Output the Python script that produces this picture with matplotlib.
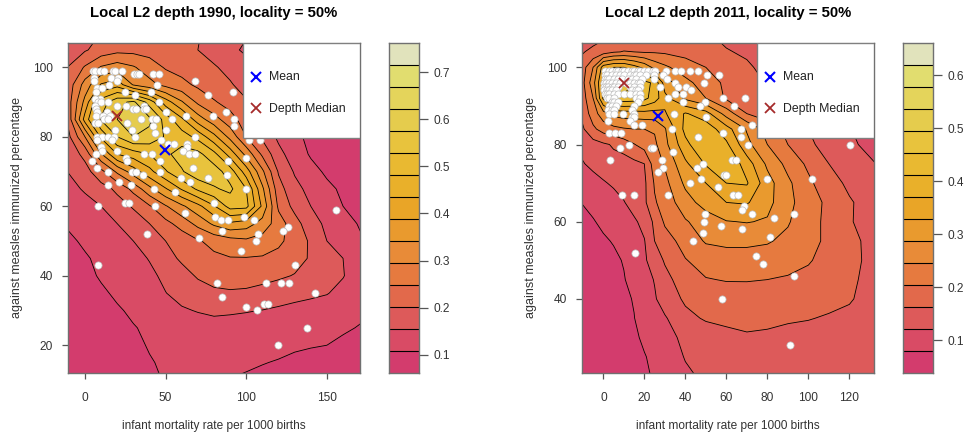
import numpy as np
import matplotlib
matplotlib.use('Agg')
import matplotlib.pyplot as plt
from matplotlib.patches import Rectangle

plt.rcParams['font.family'] = ['Liberation Sans', 'DejaVu Sans']

# 15 colour bands, bottom to top
band_colors = ['#D33C6D', '#D94B65', '#DD5A5A', '#E2694B', '#E67A3F', '#E88B38', '#E99A2E', '#E9A527',
               '#E9B02A', '#E9B931', '#E8C33D', '#E5CC4D', '#E4D45B', '#E1DD6F', '#E1E3BC']

# depth field, in colour band units (1 = first contour line), rows top to bottom
x_1990 = [-11, 0, 10, 20, 30, 40, 50, 60, 70, 80, 90, 100, 110, 120, 130, 140, 150, 160, 171]
y_1990 = [108, 105, 100, 95, 90, 85, 80, 75, 70, 65, 60, 55, 50, 45, 40, 35, 30, 25, 20, 15, 11]
bands_1990 = [
    [2.3, 2.8, 3.1, 3.4, 3.5, 3.5, 3.4, 3.2, 3.05, 2.6, 2.2, 2.0, 1.6, 1.2, .9, .7, .6, .5, .4],
    [2.4, 2.9, 3.4, 3.7, 3.7, 3.6, 3.5, 3.3, 3.0, 2.6, 2.2, 1.85, 1.4, .95, .8, .65, .55, .45, .35],
    [3.0, 4.1, 5.1, 5.5, 5.1, 4.5, 3.9, 3.6, 3.35, 3.1, 2.7, 2.3, 1.85, 1.4, 1.0, .8, .7, .6, .5],
    [3.3, 5.4, 7.1, 7.6, 5.9, 5.3, 4.7, 4.3, 3.8, 3.4, 3.1, 2.6, 2.1, 1.75, 1.4, 1.05, .85, .7, .55],
    [3.4, 6.3, 9.5, 10.7, 11.2, 9.6, 7.5, 6.1, 4.8, 4.1, 3.6, 3.1, 2.65, 2.2, 1.8, 1.35, .95, .75, .55],
    [3.1, 7.4, 10.1, 11.0, 11.7, 11.2, 9.6, 8.2, 6.5, 5.4, 4.4, 3.5, 2.7, 1.9, 1.4, .9, .75, .6, .45],
    [2.6, 5.0, 8.2, 10.0, 11.0, 10.7, 9.9, 9.5, 8.7, 7.3, 5.7, 4.0, 2.8, 1.8, 1.2, .8, .65, .5, .4],
    [2.3, 3.3, 5.9, 8.0, 8.5, 9.0, 9.8, 10.4, 10.3, 9.3, 7.6, 5.7, 3.8, 2.3, 1.5, .9, .7, .55, .4],
    [2.0, 2.6, 3.7, 5.2, 6.5, 7.7, 8.9, 9.9, 10.7, 10.5, 9.5, 7.5, 5.2, 2.9, 1.9, 1.3, .85, .65, .45],
    [1.7, 2.1, 2.6, 3.2, 4.3, 5.7, 6.9, 8.1, 9.2, 9.9, 10.2, 9.0, 6.2, 3.4, 2.3, 1.7, 1.2, .85, .6],
    [1.4, 1.7, 2.0, 2.6, 3.1, 3.9, 4.9, 5.8, 6.7, 7.9, 9.4, 9.3, 6.8, 3.8, 2.7, 2.0, 1.5, 1.0, .75],
    [1.1, 1.4, 1.7, 2.0, 2.5, 3.0, 3.7, 4.4, 5.3, 6.2, 6.8, 6.5, 5.6, 4.5, 3.4, 2.4, 1.8, 1.35, .9],
    [.8, 1.15, 1.45, 1.7, 2.0, 2.5, 3.0, 3.4, 3.9, 4.3, 4.6, 4.8, 4.6, 4.2, 3.6, 2.85, 2.0, 1.6, 1.1],
    [.6, .9, 1.2, 1.4, 1.7, 2.05, 2.65, 3.15, 3.5, 3.8, 3.95, 3.95, 3.9, 3.7, 3.35, 2.9, 2.45, 2.0, 1.3],
    [.5, .75, 1.1, 1.3, 1.55, 1.8, 2.2, 2.65, 3.1, 3.3, 3.4, 3.4, 3.3, 3.15, 2.95, 2.7, 2.4, 2.05, 1.4],
    [.4, .6, .85, 1.15, 1.4, 1.7, 1.98, 2.3, 2.6, 2.85, 2.9, 2.85, 2.7, 2.5, 2.35, 2.2, 2.05, 1.7, 1.35],
    [.35, .5, .7, .9, 1.15, 1.4, 1.65, 1.9, 2.05, 2.15, 2.1, 2.05, 1.98, 1.85, 1.7, 1.6, 1.5, 1.35, 1.15],
    [.3, .4, .55, .75, .95, 1.15, 1.3, 1.45, 1.6, 1.7, 1.7, 1.65, 1.55, 1.45, 1.35, 1.25, 1.2, 1.1, .95],
    [.25, .35, .5, .65, .85, 1.05, 1.2, 1.3, 1.35, 1.4, 1.4, 1.35, 1.3, 1.2, 1.1, 1.05, 1.0, .85, .7],
    [.2, .3, .4, .55, .7, .95, 1.1, 1.2, 1.25, 1.25, 1.2, 1.1, 1.03, .95, .85, .75, .65, .55, .45],
    [.15, .25, .35, .5, .65, .9, 1.05, 1.1, 1.1, 1.05, 1.02, .95, .85, .75, .65, .55, .45, .35, .3],
]

x_2011 = [-11, -5, 0, 5, 10, 15, 20, 25, 30, 40, 50, 60, 70, 80, 90, 100, 110, 120, 133]
y_2011 = [107, 104, 100, 96, 92, 88, 84, 80, 75, 70, 65, 60, 55, 50, 45, 40, 35, 30, 25, 20]
bands_2011 = [
    [2.5, 2.8, 3.0, 3.2, 3.4, 3.3, 3.05, 2.95, 3.1, 3.2, 3.15, 2.9, 2.7, 2.4, 2.1, 1.8, 1.5, 1.2, .9],
    [2.9, 3.2, 3.5, 3.9, 4.05, 4.0, 3.9, 3.9, 3.85, 3.7, 3.4, 3.05, 2.9, 2.6, 2.3, 1.95, 1.6, 1.3, 1.0],
    [3.3, 5.0, 7.5, 8.0, 8.0, 7.4, 6.7, 5.7, 5.2, 4.45, 4.0, 3.4, 3.1, 2.8, 2.5, 2.1, 1.7, 1.4, 1.05],
    [3.4, 5.6, 8.3, 11.0, 11.2, 9.8, 9.3, 8.8, 6.5, 5.3, 4.5, 3.8, 3.3, 2.95, 2.55, 2.15, 1.8, 1.45, 1.05],
    [3.3, 5.0, 8.2, 9.7, 9.7, 9.6, 9.3, 8.5, 7.3, 5.8, 5.0, 3.85, 3.55, 3.15, 2.8, 2.35, 1.9, 1.5, 1.1],
    [3.1, 4.5, 5.6, 6.3, 6.5, 6.5, 6.6, 6.6, 6.9, 8.1, 7.4, 5.6, 4.0, 3.5, 2.9, 2.4, 1.95, 1.5, 1.1],
    [2.7, 3.8, 4.4, 4.7, 4.9, 5.0, 5.0, 5.1, 5.9, 8.3, 8.6, 7.4, 5.9, 4.6, 3.7, 3.0, 2.45, 2.05, 1.45],
    [2.2, 2.6, 2.85, 3.1, 3.5, 3.95, 4.4, 4.8, 5.7, 7.7, 9.0, 8.2, 6.3, 5.0, 4.0, 3.2, 2.6, 2.2, 1.6],
    [1.9, 2.2, 2.5, 2.7, 2.5, 2.75, 3.0, 4.5, 5.1, 6.8, 8.1, 9.0, 7.5, 5.8, 4.7, 3.8, 3.0, 2.5, 2.0],
    [1.4, 1.7, 1.9, 2.15, 2.4, 2.6, 2.8, 4.1, 4.7, 6.2, 7.0, 8.0, 8.1, 6.4, 5.2, 4.2, 3.4, 2.8, 2.3],
    [1.0, 1.2, 1.4, 1.6, 1.95, 2.4, 2.8, 3.9, 4.4, 5.6, 6.4, 7.0, 7.1, 6.3, 5.3, 4.4, 3.8, 3.1, 2.5],
    [.7, .95, 1.15, 1.4, 1.6, 1.85, 2.3, 3.2, 4.15, 4.9, 5.5, 5.95, 6.05, 5.9, 5.1, 4.3, 3.8, 3.1, 2.4],
    [.45, .7, .9, 1.05, 1.35, 1.6, 1.95, 3.0, 3.55, 4.4, 5.1, 5.2, 5.2, 5.1, 4.75, 4.3, 3.8, 3.3, 2.6],
    [.35, .55, .7, .85, 1.05, 1.45, 1.85, 2.5, 3.1, 3.95, 4.4, 4.6, 4.6, 4.5, 4.35, 4.1, 3.6, 3.3, 2.65],
    [.3, .45, .6, .75, .95, 1.3, 1.65, 2.05, 2.7, 3.5, 3.95, 4.05, 4.05, 4.0, 3.9, 3.7, 3.5, 3.2, 2.6],
    [.25, .4, .5, .65, .85, 1.05, 1.5, 1.9, 2.45, 3.15, 3.4, 3.55, 3.6, 3.6, 3.55, 3.45, 3.3, 3.1, 2.5],
    [.2, .35, .45, .55, .75, .98, 1.35, 1.65, 1.9, 2.75, 3.1, 3.2, 3.25, 3.2, 3.1, 3.05, 2.9, 2.75, 2.4],
    [.2, .3, .4, .5, .65, .85, 1.15, 1.4, 1.7, 2.2, 2.5, 2.75, 2.9, 2.85, 2.75, 2.6, 2.5, 2.45, 2.25],
    [.15, .25, .35, .45, .6, .75, .95, 1.2, 1.5, 2.05, 2.3, 2.45, 2.5, 2.5, 2.45, 2.4, 2.35, 2.3, 2.2],
    [.1, .2, .3, .4, .5, .65, .85, 1.1, 1.35, 1.85, 2.15, 2.25, 2.3, 2.3, 2.3, 2.3, 2.25, 2.2, 2.1],
]

# countries: measles percentage -> mortality values
points_1990 = {
    99: [4.8, 6.2, 9.3, 12, 17.2, 18.6, 22.7], 98: [30.4, 32, 33.7, 42, 45.9], 97: [5.6, 15.9, 20.7],
    96: [5.8, 20, 68], 95: [15.1, 44.8], 94: [7.2, 10.5], 93: [6.8, 24.6, 40.7, 91.5], 92: [31, 76.2],
    91: [9.3, 6.4], 90: [8.3, 9.7, 14.5, 45.9], 89: [6.2, 20, 25.2, 36.6], 88: [6.8, 30, 31.6, 36.6, 37.8],
    87: [7.6, 13.4, 50.2, 87.4], 86: [6.8, 11.4, 15.5, 62.6, 79.5], 85: [11.8, 14.5, 35, 41.3, 44, 53.7, 92.4],
    84: [6.2, 8.3, 25.8], 83: [41.9, 92.4], 82: [18.6, 29, 50.2], 81: [43.2],
    80: [7.2, 10.3, 14.5, 18, 31, 68], 79: [7.6, 17, 47, 102, 108.5], 78: [51.7, 55.2, 63.4], 77: [9.7, 63.4],
    76: [10.3, 20, 60.5], 75: [6.8, 36.8, 41.7, 64.7, 68.2], 74: [25.2, 99.8], 73: [4.5, 25.8, 46.5, 88.8],
    71: [7.2, 66.7], 70: [14.5, 28.9, 31.6, 46.5], 69: [36.2, 87.8], 68: [59.3, 76.4], 67: [21.3, 65.1],
    66: [14, 28.5], 65: [43, 99.6], 64: [56], 61: [24.8, 27.3, 80.2], 60: [8.3, 43.6], 59: [155.4], 58: [61.8],
    57: [80.8, 98.6], 56: [84.1, 88.4, 104.8], 54: [126], 53: [85.1, 122.5], 52: [38.6, 107], 51: [71],
    50: [106.2], 47: [97], 43: [8.3, 130.4], 38: [82, 112.4, 121.5, 126.4], 35: [142.4], 34: [85],
    32: [111, 113.6], 31: [99.8], 30: [106.6], 25: [137.4], 20: [119.6],
}
points_2011 = {
    99: [1, 3, 4, 6, 7, 9, 10, 12, 14, 15, 17, 18, 20, 22, 24, 25, 30.6, 35, 38, 42.3, 46],
    98: [1, 2, 4, 6, 8, 10, 13, 15, 16, 18, 21, 24.9, 29.3, 50.4, 56.6],
    97: [1, 2, 3, 5, 7, 9, 12, 14, 16, 19, 24.9, 31],
    96: [.5, 1.5, 3, 4, 6, 8, 11, 13, 15, 17, 18, 35, 49.3],
    95: [.5, 1.5, 2.5, 4, 5, 7, 13, 15, 18, 27.6, 36.6, 40.3], 94: [.5, 2, 3, 4, 6, 14, 16, 17, 42.8],
    93: [1, 2, 3, 5, 7, 10, 13, 16, 18, 35, 39], 92: [2, 3, 5, 16, 18, 31.7, 58.4, 69], 91: [4, 5, 7, 17, 39, 49.6],
    90: [3, 4, 6, 15, 47.2, 63.6], 89: [2.5, 4, 5, 13.8], 88: [3, 5, 9.4, 15.1, 34.6], 87: [14, 15, 50],
    86: [2.5, 13], 85: [15.1, 18.7, 72.7], 84: [33.7, 67], 83: [2.8, 5.7, 8.6, 58.5], 82: [46, 67],
    80: [12.5, 70.4, 120.2], 79: [8.1, 23.3, 24], 78: [34], 76: [3.3, 28.8, 62.9, 64.7], 75: [48.8],
    74: [29, 45.5], 73: [26.5], 72: [59, 60], 71: [47.6, 80, 102], 70: [42.1], 69: [56],
    67: [9.3, 15.1, 31.7, 63.4, 65.5], 64: [68.6], 63: [67.5], 62: [49.6, 72.7, 92.8], 61: [83], 60: [49.3],
    59: [57.4], 58: [67.5], 57: [48.5], 56: [81.5], 55: [43.9], 52: [15.4], 51: [74.3], 49: [78], 46: [92.8],
    40: [57.9], 28: [91.2],
}


def px_axes(fig, left, top, right, bottom):
    w, h = fig.get_size_inches() * fig.dpi
    return fig.add_axes([left / w, 1 - bottom / h, (right - left) / w, (bottom - top) / h])


def draw_panel(fig, left, cb_left, year, xs, ys, bands, points, xlim, ylim, xticks, yticks,
               mean, median, depth_low, depth_step, cb_ticks):
    ax = px_axes(fig, left, 43, left + 292, 373)
    ax.contourf(xs, ys, bands, levels=np.arange(0, 16), colors=band_colors)
    ax.contour(xs, ys, bands, levels=np.arange(1, 15), colors='black', linewidths=0.6)

    px = [v for m in points for v in points[m]]
    py = [m for m in points for v in points[m]]
    ax.plot(px, py, 'o', ms=5.2, mfc='white', mec='#BDBDBD', mew=0.5, zorder=3)
    ax.plot(*mean, 'x', color='blue', ms=7.5, mew=1.5, zorder=4)
    ax.plot(*median, 'x', color='#A52A2A', ms=7.5, mew=1.3, zorder=4)

    ax.add_patch(Rectangle((0.601, 0.712), 0.399, 0.288, transform=ax.transAxes, fc='white',
                           ec='#808080', lw=1, zorder=5))
    ax.plot(0.643, 0.898, 'x', color='blue', ms=7.5, mew=1.5, transform=ax.transAxes, zorder=6)
    ax.plot(0.643, 0.803, 'x', color='#A52A2A', ms=7.5, mew=1.3, transform=ax.transAxes, zorder=6)
    ax.text(0.687, 0.896, 'Mean', transform=ax.transAxes, va='center', fontsize=8.8, color='#222222', zorder=6)
    ax.text(0.687, 0.801, 'Depth Median', transform=ax.transAxes, va='center', fontsize=8.8, color='#222222', zorder=6)

    ax.set_xlim(*xlim)
    ax.set_ylim(*ylim)
    ax.set_xticks(xticks)
    ax.set_yticks(yticks)
    ax.tick_params(length=4.6, width=0.9, color='#555555', labelcolor='#333333', labelsize=8.6)
    ax.tick_params(axis='x', pad=9)
    ax.tick_params(axis='y', pad=6.5)
    for s in ax.spines.values():
        s.set_color('#707070')
        s.set_linewidth(1)
    ax.set_xlabel('infant mortality rate per 1000 births', fontsize=8.6, color='#333333')
    ax.set_ylabel('against measles immunized percentage', fontsize=9.0, color='#333333')
    ax.xaxis.set_label_coords(0.5, -0.142)
    ax.yaxis.set_label_coords(-0.154, 0.5)
    ax.set_title('Local L2 depth %d, locality = 50%%' % year, fontsize=10.7, fontweight='bold', pad=19)

    # colour bar
    cax = px_axes(fig, cb_left, 43, cb_left + 30, 373)
    edges = depth_low + depth_step * np.arange(16)
    cax.bar(0.5, np.diff(edges), bottom=edges[:-1], width=1, color=band_colors)
    cax.hlines(edges[1:-1], 0, 1, color='black', lw=0.8)
    cax.set_xlim(0, 1)
    cax.set_ylim(edges[0], edges[-1])
    cax.set_xticks([])
    cax.yaxis.tick_right()
    cax.set_yticks(cb_ticks)
    cax.set_yticklabels(['%.1f' % t for t in cb_ticks])
    cax.tick_params(length=6.5, width=0.9, color='#555555', labelcolor='#333333', labelsize=8.6, pad=4)
    for s in cax.spines.values():
        s.set_color('#707070')
        s.set_linewidth(1)


fig = plt.figure(figsize=(9.68, 4.4), dpi=100)
draw_panel(fig, 68, 389, 1990, x_1990, y_1990, bands_1990, points_1990, (-10.5, 170.5), (12, 107),
           [0, 50, 100, 150], [20, 40, 60, 80, 100], (49.6, 76.2), (19.6, 86), 0.0613, 0.0467,
           [0.1, 0.2, 0.3, 0.4, 0.5, 0.6, 0.7])
draw_panel(fig, 582, 903, 2011, x_2011, y_2011, bands_2011, points_2011, (-10.4, 132), (20.8, 106.3),
           [0, 20, 40, 60, 80, 100, 120], [40, 60, 80, 100], (26.8, 87.5), (10, 96), 0.0385, 0.0415,
           [0.1, 0.2, 0.3, 0.4, 0.5, 0.6])
fig.savefig('out.png', dpi=100)
